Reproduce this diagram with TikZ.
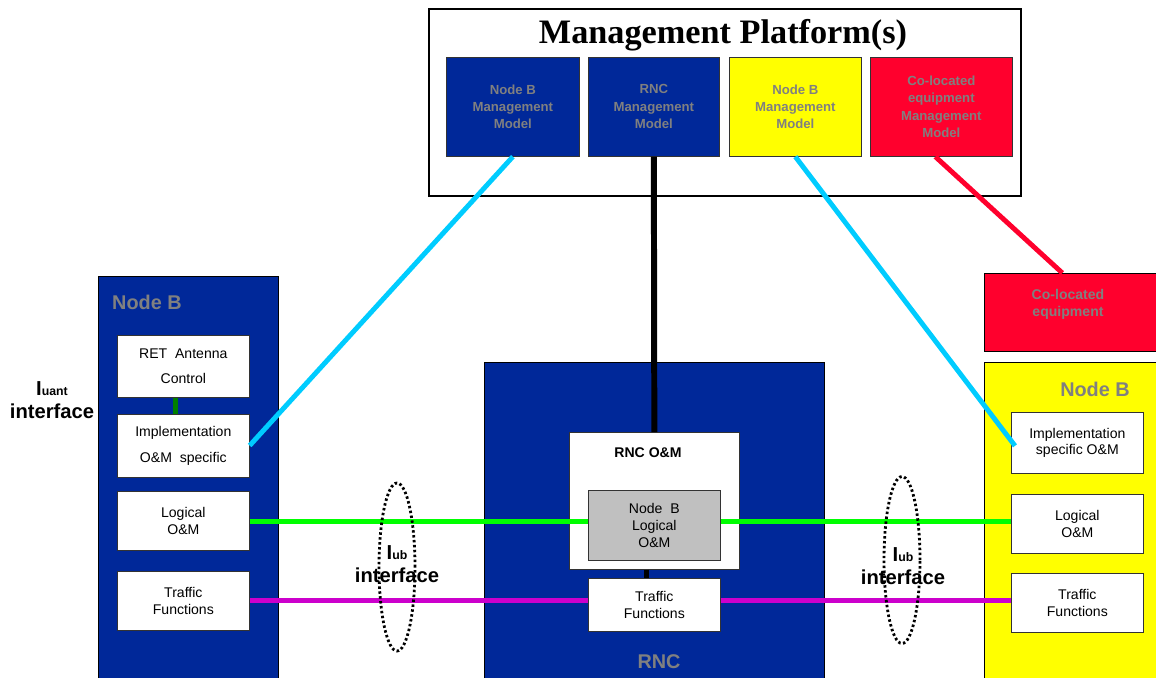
\documentclass[tikz,border=0pt]{standalone}
\usepackage{fontspec}
\setmainfont{Liberation Sans}
\newfontfamily\titlefont{Liberation Serif}
\usetikzlibrary{positioning, shapes.geometric, calc}
\definecolor{nodeblue}{RGB}{0, 40, 153}
\definecolor{nodeyellow}{RGB}{255, 255, 0}
\definecolor{equipred}{RGB}{255, 0, 45}
\definecolor{labelgray}{RGB}{128, 128, 128}
\definecolor{boxgray}{RGB}{192, 192, 192}
\definecolor{linkcyan}{RGB}{0, 204, 255}
\definecolor{linkgreen}{RGB}{0, 255, 0}
\definecolor{linkmagenta}{RGB}{204, 0, 204}
\definecolor{linkdkgreen}{RGB}{0, 128, 0}
\tikzset{
    % Node Styles
    model/.style={
        rectangle, draw=black!80, thin, anchor=north west,
        minimum width=2.66cm, minimum height=1.98cm, align=center,
        font=\fontsize{7.5}{9.9}\selectfont\bfseries, text=labelgray
    },
    container/.style={rectangle, draw=black, thin, anchor=north west},
    funcbox/.style={
        rectangle, draw=black!80, thin, fill=white, anchor=north west,
        minimum width=2.64cm, minimum height=1.18cm, align=center,
        font=\fontsize{8}{9.6}\selectfont
    },
    boxlabel/.style={font=\fontsize{11.3}{13}\selectfont\bfseries, text=labelgray},
    iflabel/.style={font=\fontsize{11.5}{13}\selectfont\bfseries, align=center},
    % Link Styles
    cyan_link/.style={line width=2.8pt, color=linkcyan},
    black_link/.style={line width=3.4pt, color=black},
    red_link/.style={line width=2.8pt, color=equipred},
    green_link/.style={line width=2.8pt, color=linkgreen},
    magenta_link/.style={line width=2.8pt, color=linkmagenta},
    iub_ring/.style={ellipse, draw, line width=1.6pt, dash pattern=on 1.4pt off 1.4pt,
        minimum width=0.72cm, inner sep=0pt}
}

\begin{document}
\begin{tikzpicture}[x=0.02cm, y=-0.02cm]
    \useasboundingbox (0,0) rectangle (1156,677);
    \clip (0,0) rectangle (1156,677);

    % --- 1. Management Platform ---
    \node [container, line width=1.2pt, minimum width=11.84cm, minimum height=3.74cm] (mp) at (428,8) {};
    \node [font=\titlefont\fontsize{19.5}{22}\selectfont\bfseries] (mptitle) at (723,35) {Management Platform(s)};

    \node [model, fill=nodeblue] (nbm) at (446,57) {Node B\\Management\\Model};
    \node [model, fill=nodeblue, minimum width=2.62cm] (rncm) at (588,57) {RNC\\Management\\Model};
    \node [model, fill=nodeyellow, minimum width=2.64cm] (nbmy) at (729,57) {Node B\\Management\\Model};
    \node [model, fill=equipred, minimum width=2.84cm] (cem) at (870,57) {Co-located\\equipment\\Management\\Model};

    % --- 2. Node B (left) ---
    \node [container, fill=nodeblue, minimum width=3.6cm, minimum height=8.2cm] (lnb) at (98,276) {};
    \node [boxlabel, anchor=west] (lnblabel) at (106,302) {Node B};

    \node [funcbox, minimum height=1.24cm] (ret) at (117,335) {RET\ \ Antenna\\[5pt]Control};
    \node [funcbox, below=0.32cm of ret, minimum height=1.26cm] (limpl) {Implementation\\[5pt]O\&M\ \ specific};
    \node [funcbox, below=0.28cm of limpl] (llog) {Logical\\O\&M};
    \node [funcbox, below=0.4cm of llog] (ltraf) {Traffic\\Functions};

    \draw [line width=2.8pt, color=linkdkgreen] ([xshift=-0.16cm]ret.south) -- ([xshift=-0.16cm]limpl.north);

    \node [iflabel] (iuant) at (52,400) {I{\fontsize{7}{8}\selectfont uant}\\interface};

    % --- 3. RNC ---
    \node [container, fill=nodeblue, minimum width=6.8cm, minimum height=6.6cm] (rnc) at (484,362) {};
    \node [boxlabel] (rnclabel) at (659,662) {RNC};

    \node [funcbox, minimum width=3.4cm, minimum height=2.74cm] (rncom) at (569,432) {};
    \node [font=\fontsize{8}{9.6}\selectfont\bfseries] (rncomlabel) at (648,453) {RNC O\&M};
    \node [funcbox, fill=boxgray, minimum height=1.4cm] (nblog) at (588,490) {Node\ \ B\\Logical\\O\&M};
    \node [funcbox, minimum height=1.06cm] (rnctraf) at (588,578) {Traffic\\Functions};

    \draw [line width=3pt] ([xshift=-0.16cm]rncom.south) -- ([xshift=-0.16cm]rncom.south |- rnctraf.north);

    % --- 4. Co-located equipment & Node B (right) ---
    \node [container, fill=equipred, minimum width=3.6cm, minimum height=1.56cm] (coloc) at (984,273) {};
    \node [font=\fontsize{8}{9.6}\selectfont\bfseries, text=labelgray, align=center] (coloclabel) at (1068,304) {Co-located\\equipment};

    \node [container, fill=nodeyellow, minimum width=3.6cm, minimum height=6.6cm] (rnb) at (984,362) {};
    \node [boxlabel] (rnblabel) at (1095,389) {Node B};

    \node [funcbox, minimum height=1.22cm] (rimpl) at (1011,412) {Implementation\\specific O\&M};
    \node [funcbox, below=0.4cm of rimpl] (rlog) {Logical\\O\&M};
    \node [funcbox, below=0.4cm of rlog] (rtraf) {Traffic\\Functions};

    % --- 5. Management links ---
    \draw [cyan_link] (nbm.south) -- (limpl.east);
    \draw [cyan_link] (nbmy.south) -- ([xshift=0.08cm, yshift=-0.06cm]rimpl.west);
    \draw [black_link] (rncm.south) -- (rncom.north);
    \draw [red_link] ([xshift=-0.12cm]cem.south) -- ([xshift=-0.24cm]coloc.north);

    % --- 6. Iub links ---
    \draw [green_link] (llog.east) -- (llog.east -| nblog.west);
    \draw [green_link] (llog.east -| nblog.east) -- (llog.east -| rlog.west);
    \draw [magenta_link] (ltraf.east) -- (ltraf.east -| rnctraf.west);
    \draw [magenta_link] (ltraf.east -| rnctraf.east) -- (ltraf.east -| rtraf.west);

    % Iub interface rings
    \node [iub_ring, minimum height=3.36cm] (iubl) at (397,567) {};
    \node [iub_ring, minimum height=3.34cm] (iubr) at (902,560) {};
    \node [iflabel] (iubllabel) at (397,564) {I{\fontsize{7}{8}\selectfont ub}\\interface};
    \node [iflabel] (iubrlabel) at (903,566) {I{\fontsize{7}{8}\selectfont ub}\\interface};

\end{tikzpicture}
\end{document}
